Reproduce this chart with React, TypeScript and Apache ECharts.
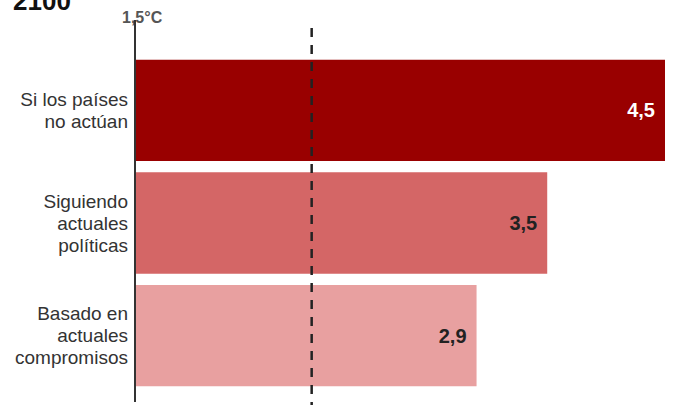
import React, { useEffect, useRef } from "react";
import * as echarts from "echarts";

const categories = ["Si los países\nno actúan", "Siguiendo\nactuales\npolíticas", "Basado en\nactuales\ncompromisos"];
const values = [4.5, 3.5, 2.9];
const barColors = ["#990000", "#d46666", "#e8a0a0"];
const labelColors = ["#ffffff", "#222222", "#222222"];
const targetValue = 1.5;
const targetLabel = "1,5°C";
const yearLabel = "2100";

const FONT = "'Liberation Sans', Arial, Helvetica, sans-serif";

export default function App() {
  const ref = useRef<HTMLDivElement>(null);
  useEffect(() => {
    if (!ref.current) return;
    const chart = echarts.init(ref.current, undefined, { renderer: "svg" });
    chart.setOption({
      animation: false,
      grid: { left: 135, right: 25, top: 54, bottom: 13 },
      xAxis: {
        type: "value",
        min: 0,
        max: 4.5,
        show: false,
      },
      yAxis: {
        type: "category",
        data: categories,
        inverse: true,
        axisLine: { show: false },
        axisTick: { show: false },
        axisLabel: {
          margin: 7,
          color: "#333",
          fontSize: 19,
          lineHeight: 22,
          fontFamily: FONT,
          align: "right",
        },
      },
      series: [
        {
          type: "bar",
          barCategoryGap: "10%",
          data: values.map((v, i) => ({
            value: v,
            itemStyle: { color: barColors[i] },
            label: { color: labelColors[i] },
          })),
          label: {
            show: true,
            position: "insideRight",
            distance: 10,
            fontSize: 20,
            fontWeight: "bold",
            fontFamily: FONT,
            formatter: (p: any) => String(p.value).replace(".", ","),
          },
        },
      ],
    });
    const x0 = chart.convertToPixel({ xAxisIndex: 0 }, 0) as number;
    const xt = chart.convertToPixel({ xAxisIndex: 0 }, targetValue) as number;
    chart.setOption({
      graphic: [
        {
          type: "line",
          z: 10,
          shape: { x1: x0, y1: 20, x2: x0, y2: 402 },
          style: { stroke: "#333", lineWidth: 2 },
        },
        {
          type: "line",
          z: 10,
          shape: { x1: xt, y1: 28, x2: xt, y2: 405 },
          style: { stroke: "#222", lineWidth: 2.5, lineDash: [9, 8] },
        },
        {
          type: "text",
          x: 122,
          y: 17,
          style: {
            text: targetLabel,
            fill: "#555",
            font: `bold 16px ${FONT}`,
            verticalAlign: "middle",
          },
        },
        {
          type: "text",
          x: 13,
          y: 1,
          style: {
            text: yearLabel,
            fill: "#111",
            font: `bold 26px ${FONT}`,
            verticalAlign: "middle",
          },
        },
      ],
    });
    return () => chart.dispose();
  }, []);
  return (
    <div
      ref={ref}
      style={{ position: "absolute", left: 0, top: 0, width: 690, height: 405, background: "#fff" }}
    />
  );
}
